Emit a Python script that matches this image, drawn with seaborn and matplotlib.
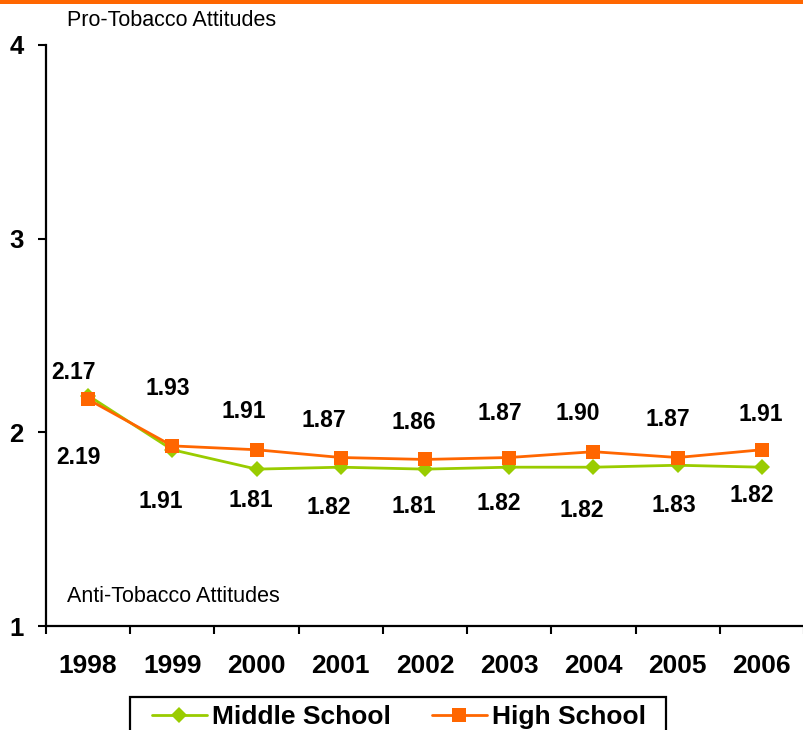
import matplotlib
matplotlib.use("Agg")
import matplotlib.pyplot as plt
from matplotlib.lines import Line2D
from matplotlib.patches import Rectangle
import seaborn as sns
import pandas as pd

years = ["1998", "1999", "2000", "2001", "2002", "2003", "2004", "2005", "2006"]
middle_school = [2.19, 1.91, 1.81, 1.82, 1.81, 1.82, 1.82, 1.83, 1.82]
high_school = [2.17, 1.93, 1.91, 1.87, 1.86, 1.87, 1.90, 1.87, 1.91]
series_names = ["Middle School", "High School"]
y_ticks = [1, 2, 3, 4]

# label offsets (pixels) relative to each point
hs_label_dx = [-14.5, -4.5, -12.5, -17, -11, -9.5, -16, -10, -1]
hs_label_dy = [27, 57, 38, 37, 37, 44, 38, 38, 35]
ms_label_dx = [-10, -12, -6, -12, -11, -10, -12, -4, -10]
ms_label_dy = [-62, -52, -31, -40, -37, -36, -43, -40, -28]

GREEN = "#99CC00"
ORANGE = "#FF6600"

df = pd.DataFrame({
    "year": years * 2,
    "value": middle_school + high_school,
    "series": [series_names[0]] * len(years) + [series_names[1]] * len(years),
})

sns.set_theme(style="white")
plt.rcParams["font.family"] = ["Liberation Sans", "DejaVu Sans"]
plt.rcParams.update({
    "text.color": "black", "axes.labelcolor": "black",
    "xtick.color": "black", "ytick.color": "black",
    "xtick.bottom": True, "ytick.left": True,
})

W, H = 804, 730
fig = plt.figure(figsize=(W / 100, H / 100), dpi=100)
ax = fig.add_axes([46 / W, 1 - 626 / H, (804 - 46) / W, (626 - 45) / H])

MS_SIZE = 8.5
HS_SIZE = 10

sns.lineplot(data=df, x="year", y="value", hue="series", style="series",
             markers={"Middle School": "D", "High School": "s"},
             dashes=False, palette={"Middle School": GREEN, "High School": ORANGE},
             linewidth=2, markersize=8, markeredgewidth=0, legend=False, ax=ax,
             sort=False)

for line in ax.get_lines():
    if line.get_marker() == "D":
        line.set_markersize(MS_SIZE)
        line.set_zorder(2)
    else:
        line.set_markersize(HS_SIZE)
        line.set_zorder(3)

ax.set_xlim(-0.5, len(years) - 0.5)
ax.set_ylim(1, 4)
ax.set_yticks(y_ticks)
ax.set_yticklabels([str(t) for t in y_ticks], fontsize=18.5, fontweight="bold")
ax.set_xticks(range(len(years)))
ax.set_xticklabels(years, fontsize=19, fontweight="bold")
ax.set_xticks([i - 0.5 for i in range(len(years) + 1)], minor=True)
ax.tick_params(axis="x", which="major", bottom=True, length=0, pad=20, labelcolor="black")
ax.tick_params(axis="x", which="minor", bottom=True, length=6, width=1.5, direction="out", color="black")
ax.tick_params(axis="y", which="major", left=True, length=6, width=1.5, direction="out",
               color="black", pad=10, labelcolor="black")
ax.set_xlabel("")
ax.set_ylabel("")
for s in ["top", "right"]:
    ax.spines[s].set_visible(False)
for s in ["left", "bottom"]:
    ax.spines[s].set_color("black")
    ax.spines[s].set_linewidth(1.6)
    ax.spines[s].set_zorder(5)
ax.patch.set_alpha(0)

k = 0.72
for i, v in enumerate(high_school):
    ax.annotate(f"{v:.2f}", (i, v), xytext=(hs_label_dx[i] * k, hs_label_dy[i] * k),
                textcoords="offset points", ha="center", va="center",
                fontsize=16.5, fontweight="bold", color="black")
for i, v in enumerate(middle_school):
    ax.annotate(f"{v:.2f}", (i, v), xytext=(ms_label_dx[i] * k, ms_label_dy[i] * k),
                textcoords="offset points", ha="center", va="center",
                fontsize=16.5, fontweight="bold", color="black")

fig.text(67 / W, 1 - 21 / H, "Pro-Tobacco Attitudes", fontsize=15.5, ha="left", va="center", color="black")
fig.text(67 / W, 1 - 597 / H, "Anti-Tobacco Attitudes", fontsize=15.5, ha="left", va="center", color="black")

fig.add_artist(Rectangle((0, 1 - 3.5 / H), 1, 3.5 / H, transform=fig.transFigure,
                         facecolor=ORANGE, edgecolor="none"))

# legend frame (extends below the bottom edge, as in the reference)
fig.add_artist(Rectangle((130 / W, -20 / H), (666 - 130) / W, (20 + 730 - 697) / H,
                         transform=fig.transFigure, facecolor="white", edgecolor="black",
                         linewidth=1.6, zorder=4))

handles = [
    Line2D([], [], color=GREEN, marker="D", markersize=MS_SIZE, markeredgewidth=0, linewidth=2),
    Line2D([], [], color=ORANGE, marker="s", markersize=HS_SIZE, markeredgewidth=0, linewidth=2),
]
leg = fig.legend(handles, series_names, loc="center left", bbox_to_anchor=(152 / W, 1 - 717 / H),
                 ncol=2, frameon=False, borderaxespad=0, borderpad=0,
                 prop={"family": ["Liberation Sans", "DejaVu Sans"], "size": 19, "weight": "bold"},
                 handlelength=2.08, handletextpad=0.2, columnspacing=1.55)
leg.set_zorder(5)
for t in leg.get_texts():
    t.set_color("black")

fig.savefig("out.png", dpi=100)
